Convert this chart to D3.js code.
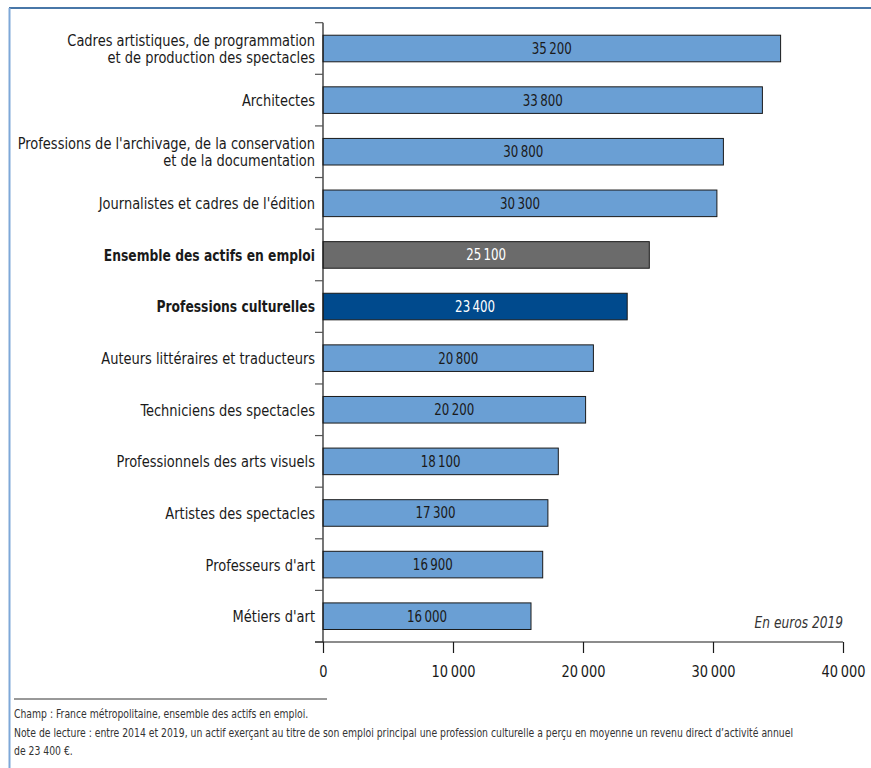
<!DOCTYPE html>
<html>
<head>
<meta charset="utf-8">
<script src="https://cdn.jsdelivr.net/npm/d3@7"></script>
<style>
  html, body { margin: 0; padding: 0; background: #fff; }
  svg { display: block; }
  text { font-family: "DejaVu Sans Condensed", "Liberation Sans Narrow", "Roboto Condensed", sans-serif; }
</style>
</head>
<body>
<svg id="chart" width="871" height="768"></svg>
<script>
// Revenu direct d'activité annuel moyen par profession (en euros 2019)
const categories = [
  ["Cadres artistiques, de programmation", "et de production des spectacles"],
  ["Architectes"],
  ["Professions de l'archivage, de la conservation", "et de la documentation"],
  ["Journalistes et cadres de l'édition"],
  ["Ensemble des actifs en emploi"],
  ["Professions culturelles"],
  ["Auteurs littéraires et traducteurs"],
  ["Techniciens des spectacles"],
  ["Professionnels des arts visuels"],
  ["Artistes des spectacles"],
  ["Professeurs d'art"],
  ["Métiers d'art"]
];
const values = [35200, 33800, 30800, 30300, 25100, 23400, 20800, 20200, 18100, 17300, 16900, 16000];
const kinds = ["prof", "prof", "prof", "prof", "total", "culture", "prof", "prof", "prof", "prof", "prof", "prof"];
const xTicks = [0, 10000, 20000, 30000, 40000];
const unitNote = "En euros 2019";
const notes = [
  "Champ : France métropolitaine, ensemble des actifs en emploi.",
  "Note de lecture : entre 2014 et 2019, un actif exerçant au titre de son emploi principal une profession culturelle a perçu en moyenne un revenu direct d’activité annuel",
  "de 23 400 €."
];

const fill = { prof: "#6a9fd4", total: "#6b6b6b", culture: "#004a8d" };
const labelFill = { prof: "#1a1a1a", total: "#ffffff", culture: "#ffffff" };

// narrow rendering of the sans-serif text
const SX = 0.877, SX_BOLD = 0.83;

const fmt = v => d3.format(",")(v).replace(/,/g, "\u202F");

const svg = d3.select("#chart");

// cadre
svg.append("line").attr("x1", 9).attr("x2", 871).attr("y1", 8).attr("y2", 8)
  .attr("stroke", "#0b4a8b").attr("stroke-width", 1.6);
svg.append("line").attr("x1", 9.5).attr("x2", 9.5).attr("y1", 8).attr("y2", 768)
  .attr("stroke", "#7ea8d8").attr("stroke-width", 2);

const plotLeft = 323, plotRight = 843, plotTop = 22.7, plotBottom = 642;
const idx = d3.range(categories.length);

const x = d3.scaleLinear().domain([0, 40000]).range([plotLeft, plotRight]);
const y = d3.scaleBand().domain(idx).range([plotTop, plotBottom]).paddingInner(0.485).paddingOuter(0.2425);
const step = y.step();

// barres
svg.append("g").selectAll("rect").data(idx).join("rect")
  .attr("x", x(0))
  .attr("y", i => y(i))
  .attr("width", i => x(values[i]) - x(0))
  .attr("height", y.bandwidth())
  .attr("fill", i => fill[kinds[i]])
  .attr("stroke", "#1a1a1a")
  .attr("stroke-width", 1);

// valeurs dans les barres
svg.append("g").selectAll("text").data(idx).join("text")
  .attr("transform", i => `translate(${(x(0) + x(values[i])) / 2},${y(i) + y.bandwidth() / 2}) scale(${SX},1)`)
  .attr("dy", "0.36em")
  .attr("text-anchor", "middle")
  .attr("font-size", 15)
  .attr("fill", i => labelFill[kinds[i]])
  .text(i => fmt(values[i]));

// axe vertical avec graduations entre catégories
const yAxisG = svg.append("g");
yAxisG.append("line").attr("x1", plotLeft).attr("x2", plotLeft).attr("y1", plotTop).attr("y2", plotBottom)
  .attr("stroke", "#1a1a1a").attr("stroke-width", 1.2);
const edges = d3.range(categories.length + 1).map(k => plotTop + k * step);
yAxisG.selectAll("line.tk").data(edges).join("line").attr("class", "tk")
  .attr("x1", plotLeft - 8).attr("x2", plotLeft).attr("y1", d => d).attr("y2", d => d)
  .attr("stroke", "#555").attr("stroke-width", 1.2);

// libellés des catégories
const labelSize = 16.5, lh = 17.5;
const isBold = i => kinds[i] !== "prof";
const lab = svg.append("g").selectAll("text").data(idx).join("text")
  .attr("transform", i => `translate(${plotLeft - 8},${y(i) + y.bandwidth() / 2}) scale(${isBold(i) ? SX_BOLD : SX},1)`)
  .attr("text-anchor", "end")
  .attr("font-size", labelSize)
  .attr("font-weight", i => isBold(i) ? "bold" : "normal")
  .attr("fill", "#1a1a1a");
lab.each(function(i) {
  const lines = categories[i];
  d3.select(this).selectAll("tspan").data(lines).join("tspan")
    .attr("x", 0)
    .attr("dy", (d, k) => k === 0 ? (0.36 * labelSize - (lines.length - 1) * lh / 2) : lh)
    .text(d => d);
});

// axe horizontal
const xAxis = d3.axisBottom(x).tickValues(xTicks).tickSize(11).tickPadding(12).tickFormat(fmt);
const xg = svg.append("g").attr("transform", `translate(0,${plotBottom})`).call(xAxis);
xg.select(".domain").attr("d", `M${plotLeft - 8},0H${plotRight}`).attr("stroke", "#1a1a1a").attr("stroke-width", 1.2);
xg.selectAll(".tick line").attr("stroke", "#1a1a1a").attr("stroke-width", 1.2);
xg.selectAll(".tick text").attr("font-size", 16.5).attr("fill", "#1a1a1a")
  .attr("transform", `scale(${SX},1)`)
  .style("font-family", "'DejaVu Sans Condensed', 'Liberation Sans Narrow', sans-serif");

// unité
svg.append("text")
  .attr("transform", `translate(${plotRight},628) scale(${SX},1)`)
  .attr("text-anchor", "end")
  .attr("font-size", 15.5).attr("font-style", "italic").attr("fill", "#333").text(unitNote);

// notes
svg.append("line").attr("x1", 14).attr("x2", 327).attr("y1", 699).attr("y2", 699)
  .attr("stroke", "#333").attr("stroke-width", 1);
svg.append("g").selectAll("text").data(notes).join("text")
  .attr("transform", (d, k) => `translate(14,${718 + k * 18.5}) scale(0.86,1)`)
  .attr("font-size", 12).attr("fill", "#333").text(d => d);
</script>
</body>
</html>
